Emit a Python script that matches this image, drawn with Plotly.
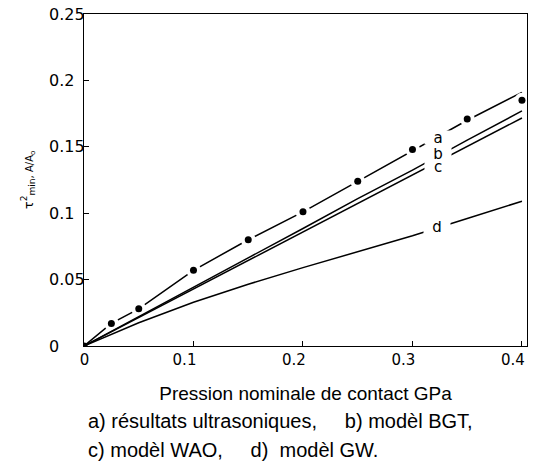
import plotly.graph_objects as go

# Measured points (ultrasonic results) and model curves
p_meas = [0.0, 0.025, 0.05, 0.1, 0.15, 0.2, 0.25, 0.3, 0.35, 0.4]
t_meas = [0.0, 0.017, 0.028, 0.057, 0.080, 0.101, 0.124, 0.148, 0.171, 0.185]

p_a = [0.0, 0.025, 0.05, 0.1, 0.15, 0.2, 0.25, 0.3, 0.35, 0.4]
t_a = [0.0, 0.017, 0.028, 0.057, 0.080, 0.101, 0.124, 0.147, 0.170, 0.191]

p_model = [0.0, 0.05, 0.1, 0.15, 0.2, 0.25, 0.3, 0.35, 0.4]
t_bgt = [0.0, 0.022, 0.0445, 0.0665, 0.0885, 0.111, 0.1325, 0.155, 0.177]
t_wao = [0.0, 0.0215, 0.043, 0.0645, 0.086, 0.1075, 0.129, 0.150, 0.1717]
t_gw = [0.0, 0.0175, 0.033, 0.0465, 0.059, 0.071, 0.083, 0.096, 0.109]

# Curve labels (letter, x, y)
curve_labels = [("a", 0.3233, 0.1570), ("b", 0.3233, 0.1447),
                ("c", 0.3233, 0.1352), ("d", 0.3224, 0.0898)]

x_ticks = [0, 0.1, 0.2, 0.3, 0.4]
x_ticklabels = ["0", "0.1", "0.2", "0.3", "0.4"]
y_ticks = [0, 0.05, 0.1, 0.15, 0.2, 0.25]
y_ticklabels = ["0", "0.05", "0.1", "0.15", "0.2", "0.25"]

y_title = ("τ<sup>2</sup><sub>min</sub>"
           "<span style='font-size:10px'>, A/A<sub>o</sub></span>")
x_title = "Pression nominale de contact GPa"
caption = ["a) résultats ultrasoniques,     b) modèl BGT,",
           "c) modèl WAO,     d)  modèl GW."]

NB = "\u00a0"


def _w(s):
    return sum(0.5 if c == "." else 1.0 for c in s)


# left-align the y tick labels with non-breaking spaces
wmax = max(_w(s) for s in y_ticklabels)
y_text = [s + NB * int(round((wmax - _w(s)) * 2)) for s in y_ticklabels]
# x labels sit just left of their ticks, except the origin which is centred
x_text = [s if "." in s else NB * 4 + s for s in x_ticklabels]

fig = go.Figure()
line = dict(color="black", width=1.5)

fig.add_trace(go.Scatter(x=p_a, y=t_a, mode="lines", line=line))
# white halo around each measured point breaks the curve
fig.add_trace(go.Scatter(x=p_meas[1:], y=t_meas[1:], mode="markers",
                         marker=dict(color="white", size=15)))
fig.add_trace(go.Scatter(x=p_model, y=t_bgt, mode="lines", line=line))
fig.add_trace(go.Scatter(x=p_model, y=t_wao, mode="lines", line=line))
fig.add_trace(go.Scatter(x=p_model, y=t_gw, mode="lines", line=line))
fig.add_trace(go.Scatter(x=p_meas, y=t_meas, mode="markers",
                         marker=dict(color="black", size=7)))

for txt, x, y in curve_labels:
    fig.add_annotation(x=x, y=y, text=txt, showarrow=False,
                       font=dict(family="DejaVu Sans", size=15, color="black"),
                       bgcolor="white", width=24, height=11,
                       xanchor="center", yanchor="middle")

for i, line_txt in enumerate(caption):
    fig.add_annotation(x=0.0045, y=-0.226 - 0.088 * i, xref="paper", yref="paper",
                       text=line_txt.replace(" ", NB), showarrow=False,
                       xanchor="left", yanchor="middle",
                       font=dict(family="Liberation Sans", size=20, color="black"))

fig.add_annotation(x=-0.126, y=0.5, xref="paper", yref="paper", text=y_title,
                   textangle=-90, showarrow=False, xanchor="center", yanchor="middle",
                   font=dict(family="DejaVu Sans", size=13, color="black"))

axis_common = dict(showline=True, linecolor="black", linewidth=1.3, mirror=True,
                   ticks="inside", ticklen=5, tickwidth=1.2, tickcolor="black",
                   showgrid=False, zeroline=False, ticklabeloverflow="allow",
                   automargin=False)

fig.update_xaxes(range=[0, 0.4046], tickvals=x_ticks, ticktext=x_text,
                 tickfont=dict(family="DejaVu Sans", size=15, color="black"),
                 ticklabelshift=-9,
                 title=dict(text=x_title,
                            font=dict(family="Liberation Sans", size=19, color="black"),
                            standoff=18),
                 **axis_common)
fig.update_yaxes(range=[0, 0.25], tickvals=y_ticks, ticktext=y_text,
                 tickfont=dict(family="DejaVu Sans", size=16, color="black"),
                 ticklabelstandoff=-5,
                 **axis_common)

fig.update_layout(width=540, height=473, showlegend=False,
                  margin=dict(l=84, r=13, t=14, b=127),
                  paper_bgcolor="white", plot_bgcolor="white")

fig.write_html("out.html")
